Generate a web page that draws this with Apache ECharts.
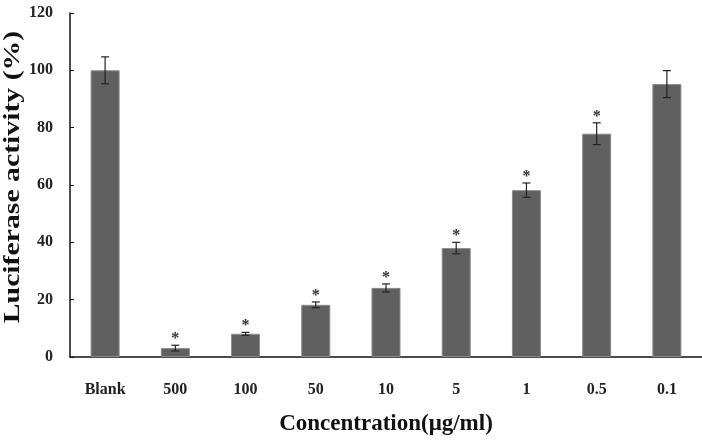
<!DOCTYPE html>
<html>
<head>
<meta charset="utf-8">
<script src="https://cdn.jsdelivr.net/npm/echarts@6/dist/echarts.min.js"></script>
<style>
  html, body { margin: 0; padding: 0; background: #fff; }
  #chart { width: 702px; height: 444px; }
</style>
</head>
<body>
<div id="chart"></div>
<script>
const categories = ['Blank', '500', '100', '50', '10', '5', '1', '0.5', '0.1']
const activity = [100, 3.1, 8.1, 18.2, 24.1, 38, 58.2, 77.9, 95.2]
const errors = [4.7, 1, 0.5, 1, 1.4, 2, 2.5, 3.8, 4.7]
const significant = [false, true, true, true, true, true, true, true, false]
const yTicks = [0, 20, 40, 60, 80, 100, 120]

const font = 'Liberation Serif'
const chart = echarts.init(document.getElementById('chart'))

const errData = categories.map((c, i) => [i, activity[i], errors[i], significant[i] ? 1 : 0])

chart.setOption({
  animation: false,
  grid: { left: 70, right: 0, top: 13, bottom: 87, outerBoundsMode: 'none', containLabel: false },
  graphic: [
    {
      // y axis title, stretched along its length like the original
      type: 'text',
      x: 13,
      y: 177,
      rotation: Math.PI / 2,
      scaleX: 1.24,
      style: {
        text: 'Luciferase activity (%)',
        align: 'center',
        verticalAlign: 'middle',
        font: 'bold 24px ' + font,
        fill: '#111'
      }
    }
  ],
  xAxis: [
    {
      type: 'category',
      data: categories,
      name: 'Concentration(μg/ml)',
      nameLocation: 'middle',
      nameGap: 56,
      nameTextStyle: { fontFamily: font, fontWeight: 'bold', fontSize: 23, color: '#111' },
      axisLine: { lineStyle: { color: '#111', width: 1.5 } },
      axisTick: { alignWithLabel: true, length: 5, lineStyle: { color: '#111' } },
      axisLabel: { fontFamily: font, fontWeight: 'bold', fontSize: 16, color: '#222', margin: 25 }
    },
    {
      type: 'category',
      data: categories,
      position: 'bottom',
      axisLine: { show: false },
      axisTick: { inside: true, alignWithLabel: true, length: 4, lineStyle: { color: '#222' } },
      axisLabel: { show: false }
    }
  ],
  yAxis: {
    type: 'value',
    min: 0,
    max: 120,
    interval: 20,
    axisLine: { show: true, lineStyle: { color: '#111', width: 1.5 } },
    axisTick: { show: true, inside: true, length: 4, lineStyle: { color: '#111' } },
    axisLabel: {
      fontFamily: font, fontWeight: 'bold', fontSize: 16, color: '#222', margin: 17,
      formatter: v => (yTicks.includes(v) ? String(v) : '')
    },
    splitLine: { show: false }
  },
  series: [
    {
      type: 'bar',
      data: activity,
      barWidth: 29,
      itemStyle: { color: '#606060', borderColor: '#8a8a8a', borderWidth: 1 },
      z: 2
    },
    {
      type: 'custom',
      data: errData,
      z: 5,
      renderItem(params, api) {
        const i = api.value(0)
        const v = api.value(1)
        const e = api.value(2)
        const top = api.coord([i, v + e])
        const bot = api.coord([i, v - e])
        const x = top[0]
        const style = { stroke: '#222', lineWidth: 1.2 }
        const children = [
          { type: 'line', shape: { x1: x, y1: top[1], x2: x, y2: bot[1] }, style },
          { type: 'line', shape: { x1: x - 4, y1: top[1], x2: x + 4, y2: top[1] }, style },
          { type: 'line', shape: { x1: x - 4, y1: bot[1], x2: x + 4, y2: bot[1] }, style }
        ]
        if (api.value(3)) {
          children.push({
            type: 'text',
            style: {
              text: '*', x: x, y: top[1] - 6,
              align: 'center', verticalAlign: 'middle',
              font: 'bold 16px ' + font, fill: '#333'
            }
          })
        }
        return { type: 'group', children }
      }
    }
  ]
})
</script>
</body>
</html>
